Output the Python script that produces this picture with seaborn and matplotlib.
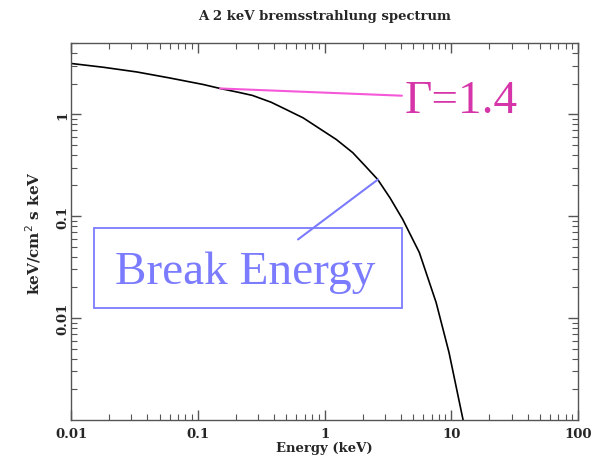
import matplotlib
matplotlib.use("Agg")
import matplotlib.pyplot as plt
import matplotlib.patches as mpatches
import seaborn as sns
import pandas as pd
from matplotlib.ticker import LogLocator, NullFormatter, FixedLocator, FixedFormatter

# --- data ---
energy_kev = [0.01, 0.018, 0.033, 0.06, 0.11, 0.15, 0.21, 0.27, 0.38, 0.5, 0.68,
              0.86, 1.24, 1.67, 2.1, 2.63, 3.3, 4.14, 5.6, 7.6, 9.6, 12.4]
flux = [3.15, 2.89, 2.60, 2.27, 1.96, 1.79, 1.64, 1.53, 1.31, 1.11, 0.92,
        0.76, 0.565, 0.42, 0.31, 0.229, 0.15, 0.093, 0.044, 0.0142, 0.0046, 0.001]
x_ticks = [0.01, 0.1, 1, 10, 100]
x_ticklabels = ["0.01", "0.1", "1", "10", "100"]
y_ticks = [0.01, 0.1, 1]
y_ticklabels = ["0.01", "0.1", "1"]
title = "A 2 keV bremsstrahlung spectrum"
xlabel = "Energy (keV)"
ylabel = "keV/cm$^2$ s keV"
gamma_label = "Γ=1.4"
break_label = "Break Energy"

df = pd.DataFrame({"E": energy_kev, "F": flux})

sns.set_style("ticks")
plt.rcParams["font.family"] = ["DejaVu Serif"]

fig = plt.figure(figsize=(5.93, 4.64), dpi=100)
ax = fig.add_axes([71 / 593, 1 - 421 / 464, 507 / 593, 377 / 464])

sns.lineplot(data=df, x="E", y="F", ax=ax, color="black", lw=1.2, sort=False)
ax.set_xscale("log")
ax.set_yscale("log")
ax.set_xlim(0.01, 100)
ax.set_ylim(0.001, 5)

ax.xaxis.set_major_locator(FixedLocator(x_ticks))
ax.xaxis.set_major_formatter(FixedFormatter(x_ticklabels))
ax.yaxis.set_major_locator(FixedLocator(y_ticks))
ax.yaxis.set_major_formatter(FixedFormatter(y_ticklabels))
ax.xaxis.set_minor_locator(LogLocator(base=10, subs=range(2, 10), numticks=20))
ax.yaxis.set_minor_locator(LogLocator(base=10, subs=range(2, 10), numticks=20))
ax.xaxis.set_minor_formatter(NullFormatter())
ax.yaxis.set_minor_formatter(NullFormatter())

ax.tick_params(which="both", direction="in", top=True, right=True, color="#555555")
ax.tick_params(which="major", length=7, width=1)
ax.tick_params(which="minor", length=4, width=0.8)
ax.tick_params(axis="x", labelsize=9.5, pad=5)
ax.tick_params(axis="y", labelsize=9.5, pad=1.5)
for lab in ax.get_yticklabels():
    lab.set_rotation(90)
    lab.set_va("center")
for lab in ax.get_xticklabels() + ax.get_yticklabels():
    lab.set_fontweight("bold")
for s in ax.spines.values():
    s.set_color("#555555")
    s.set_linewidth(1)

ax.set_title(title, fontsize=9.5, fontweight="bold", pad=17)
ax.set_xlabel(xlabel, fontsize=9.5, fontweight="bold", labelpad=1)
ax.set_ylabel(ylabel, fontsize=11, fontweight="bold", labelpad=9)

# annotations
magenta_line = "#f558d8"
magenta_text = "#d535a8"
blue = "#7b7bff"
ax.plot([0.150, 4.08], [1.79, 1.52], color=magenta_line, lw=1.5)
ax.text(0.659, 0.817, gamma_label, transform=ax.transAxes, color=magenta_text,
        fontsize=34, family=["Liberation Serif"], ha="left", va="baseline")

ax.plot([0.618, 2.64], [0.0591, 0.229], color=blue, lw=1.5)
rect = mpatches.Rectangle((0.0454, 0.297), 0.6075, 0.212, transform=ax.transAxes,
                          fill=False, edgecolor=blue, lw=1.3)
ax.add_patch(rect)
ax.text(0.0868, 0.363, break_label, transform=ax.transAxes, color=blue,
        fontsize=34, family=["Liberation Serif"], ha="left", va="baseline")

fig.savefig("out.png", dpi=100)
